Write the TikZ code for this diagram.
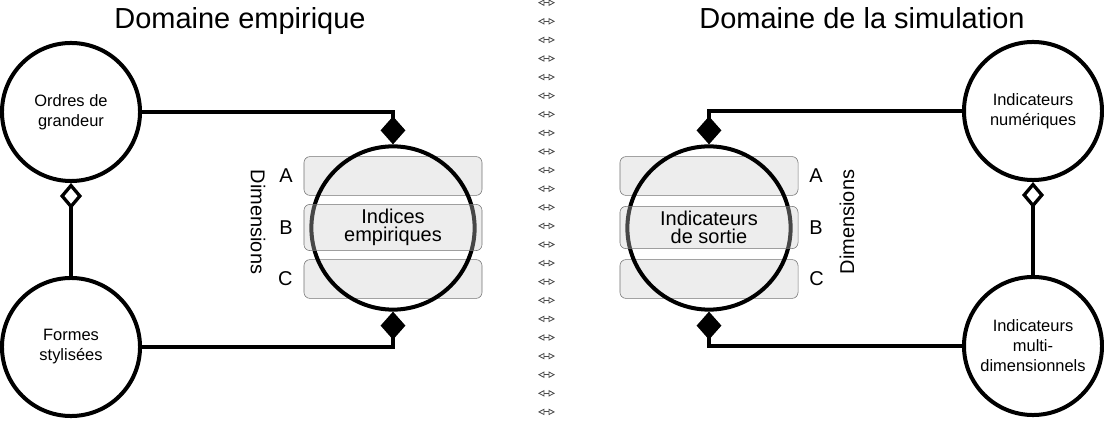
\documentclass[tikz,border=0pt]{standalone}
\usepackage{fontspec}
\setmainfont{Liberation Sans}
\usetikzlibrary{arrows.meta, positioning}

\begin{document}
\begin{tikzpicture}
	[%
	x=0.025cm, y=-0.025cm,%
	outernode/.style={circle,		draw=black,		line width=2.85pt,	inner sep=0pt,	minimum size=3.45cm,	align=center,	font=\fontsize{11.7}{14.2}\selectfont},%
	core/.style   ={circle,		draw=black,		line width=2.85pt,	inner sep=0pt,	minimum size=4.08cm},%
	dimbox/.style ={rectangle,	draw=black!55,	fill=black!7,	thin,	rounded corners=0.15cm,	minimum width=4.45cm,	minimum height=0.97cm,	align=center,	font=\fontsize{14.2}{13}\selectfont},%
	letter/.style ={inner sep=0pt,	font=\fontsize{14.2}{16}\selectfont},%
	title/.style  ={anchor=base,	font=\fontsize{20.6}{24}\selectfont},%
	link/.style   ={line width=2.35pt},%
	fulldia/.style={-{Diamond[length=0.7cm,width=0.62cm]}},%
	opendia/.style={{Diamond[open,fill=white,length=0.65cm,width=0.55cm]}-},%
	sepmark/.style={draw=black!70,	line width=0.6pt,	{Triangle[open,length=0.16cm,width=0.16cm]}-{Triangle[open,length=0.16cm,width=0.16cm]}},%
	]
	\useasboundingbox (0,0) rectangle (1104,431);

	\newcommand\xemp{393}
	\newcommand\xsim{709}

	% titles
	\node[title] (titemp) at (240,29) {Domaine empirique};
	\node[title] (titsim) at (862,29) {Domaine de la simulation};

	% separation
	\foreach \k in {0,...,22}%
		\draw[sepmark] (538,{2.7+18.6*\k}) -- (555,{2.7+18.6*\k});

	% outer nodes
	\node[outernode] (ordres)  at (71,112)   {Ordres de\\grandeur};
	\node[outernode] (formes)  at (71,347)   {Formes\\stylisées};
	\node[outernode] (indnum)  at (1033,111) {Indicateurs\\numériques};
	\node[outernode] (indmulti) at (1033,346) {Indicateurs\\multi-\\dimensionnels};

	% dimension boxes
	\foreach \d/\y in {A/176,C/279}%
		\node[dimbox] (emp\d) at (\xemp,\y) {};
	\foreach \d/\y in {A/176,C/279}%
		\node[dimbox] (sim\d) at (\xsim,\y) {};

	\node[core] (empcore) at (\xemp,228) {};
	\node[core] (simcore) at (\xsim,228) {};

	\node[dimbox, fill=black!20, fill opacity=0.35, text opacity=1] (empB) at (\xemp,227.5) {Indices\\empiriques};
	\node[dimbox, fill=black!20, fill opacity=0.35, text opacity=1] (simB) at (\xsim,227.5) {Indicateurs\\de sortie};

	\foreach \d in {A,B,C}%
		\node[letter, left=0.27cm of emp\d] (empl\d) {\d};
	\foreach \d in {A,B,C}%
		\node[letter, right=0.27cm of sim\d] (siml\d) {\d};

	\node[letter, rotate=-90] (empdim) at (258,222) {Dimensions};
	\node[letter, rotate=90]  (simdim) at (847,222) {Dimensions};

	% links
	\draw[link, fulldia] (ordres.east) -| (empcore.north);
	\draw[link, fulldia] (formes.east) -| (empcore.south);
	\draw[link, opendia] (ordres.south) -- (formes.north);

	\draw[link, fulldia] (indnum.west)   -| (simcore.north);
	\draw[link, fulldia] (indmulti.west) -| (simcore.south);
	\draw[link, opendia] (indnum.south) -- (indmulti.north);

\end{tikzpicture}
\end{document}
